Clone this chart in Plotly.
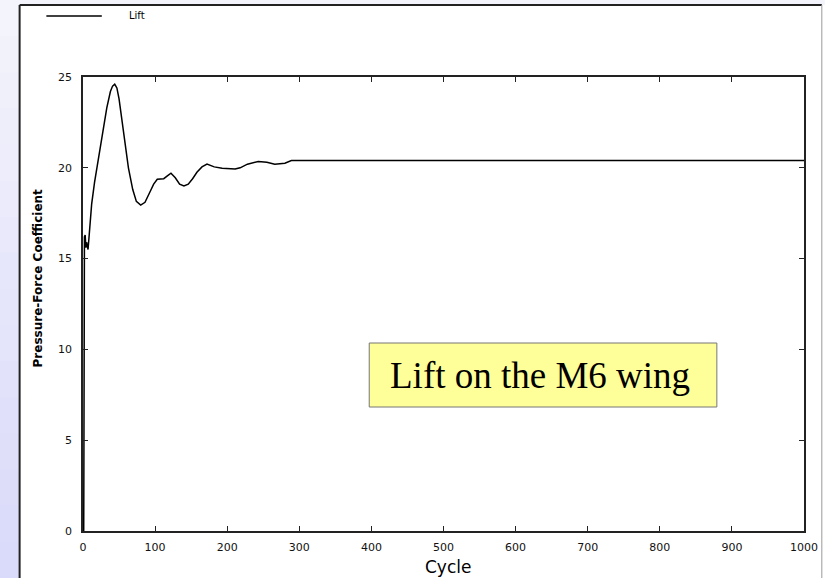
import plotly.graph_objects as go

# ---- data ----
cycle = [0, 1, 2, 3, 4, 5, 7, 9, 12, 16, 19, 23, 28, 33, 38, 41, 44, 47, 50, 54, 58,
         63, 69, 74, 80, 86, 92, 98, 103, 112, 117, 122, 128, 134, 140, 146, 152, 158,
         165, 172, 182, 193, 211, 218, 228, 243, 255, 266, 280, 289, 1000]
lift = [0.0, 0.0, 16.2, 16.3, 15.6, 15.9, 15.5, 16.5, 18.0, 19.2, 19.9, 21.0, 22.2, 23.3,
        24.2, 24.5, 24.6, 24.4, 23.8, 22.7, 21.35, 20.0, 18.8, 18.15, 17.95, 18.1, 18.6,
        19.1, 19.37, 19.4, 19.55, 19.7, 19.45, 19.1, 19.0, 19.1, 19.4, 19.75, 20.05, 20.2,
        20.05, 19.97, 19.93, 20.0, 20.2, 20.35, 20.3, 20.19, 20.25, 20.4, 20.4]
x_ticks = [0, 100, 200, 300, 400, 500, 600, 700, 800, 900, 1000]
y_ticks = [0, 5, 10, 15, 20, 25]
series_name = "Lift"
x_title = "Cycle"
y_title = "Pressure-Force Coefficient"
note_text = "Lift on the M6 wing"

W, H = 830, 578
L, R, T, B = 83, 811, 77, 531  # plot area in pixels


def px(x):
    return (x - L) / (R - L)


def py(y):
    return (B - y) / (B - T)


fig = go.Figure()
fig.add_trace(go.Scatter(x=cycle, y=lift, mode="lines", name=series_name,
                         line=dict(color="black", width=1.5), showlegend=False))

shapes = []
# lavender gradient background strips on the left
n = 16
for i in range(n):
    t = i / (n - 1)
    r = int(244 - t * (244 - 218))
    g = int(244 - t * (244 - 218))
    b = int(252 - t * (252 - 250))
    shapes.append(dict(type="rect", xref="paper", yref="paper",
                       x0=px(-2), x1=px(19), y0=py(i * H / n), y1=py((i + 1) * H / n + 1),
                       fillcolor=f"rgb({r},{g},{b})", line=dict(width=0), layer="below"))
# top strip
shapes.append(dict(type="rect", xref="paper", yref="paper", x0=px(19), x1=px(832),
                   y0=py(5), y1=py(-1), fillcolor="#f3f3fb", line=dict(width=0), layer="below"))
# panel borders
shapes.append(dict(type="line", xref="paper", yref="paper", x0=px(19), x1=px(19),
                   y0=py(5), y1=py(578), line=dict(color="#222", width=2)))
shapes.append(dict(type="line", xref="paper", yref="paper", x0=px(19), x1=px(829),
                   y0=py(5), y1=py(5), line=dict(color="#222", width=2)))
shapes.append(dict(type="line", xref="paper", yref="paper", x0=px(829), x1=px(829),
                   y0=py(5), y1=py(578), line=dict(color="#999", width=1)))
# legend line
shapes.append(dict(type="line", xref="paper", yref="paper", x0=px(46), x1=px(102),
                   y0=py(16), y1=py(16), line=dict(color="black", width=1.5)))
# note box
shapes.append(dict(type="rect", xref="paper", yref="paper", x0=px(372), x1=px(723),
                   y0=py(407), y1=py(343), fillcolor="#ffff99",
                   line=dict(color="#777", width=1)))

annotations = [
    dict(text=series_name, xref="paper", yref="paper", x=px(127), y=py(16),
         xanchor="left", yanchor="middle", showarrow=False,
         font=dict(family="DejaVu Sans", size=10, color="black")),
    dict(text=note_text, xref="paper", yref="paper", x=px(391), y=py(375),
         xanchor="left", yanchor="middle", showarrow=False,
         font=dict(family="Liberation Serif", size=37, color="black")),
    dict(text=y_title, xref="paper", yref="paper", x=px(38), y=py(278),
         xanchor="center", yanchor="middle", showarrow=False, textangle=-90,
         font=dict(family="DejaVu Sans", size=12, color="black", weight="bold")),
    dict(text=x_title, xref="paper", yref="paper", x=px(452), y=py(567),
         xanchor="center", yanchor="middle", showarrow=False,
         font=dict(family="DejaVu Sans", size=17, color="black")),
]

axis_common = dict(showline=True, linecolor="#222", linewidth=1.5, mirror="allticks",
                   ticks="inside", ticklen=5, tickwidth=1, tickcolor="#222",
                   showgrid=False, zeroline=False,
                   tickfont=dict(family="DejaVu Sans", size=11, color="#111"))

fig.update_layout(
    width=W, height=H, autosize=False,
    margin=dict(l=L, r=W - R, t=T, b=H - B, pad=0),
    paper_bgcolor="white", plot_bgcolor="white",
    xaxis=dict(range=[0, 1000], tickvals=x_ticks, ticklabelstandoff=5, **axis_common),
    yaxis=dict(range=[0, 25], tickvals=y_ticks, ticklabelstandoff=7, **axis_common),
    shapes=shapes, annotations=annotations,
)

fig.write_html("out.html")
